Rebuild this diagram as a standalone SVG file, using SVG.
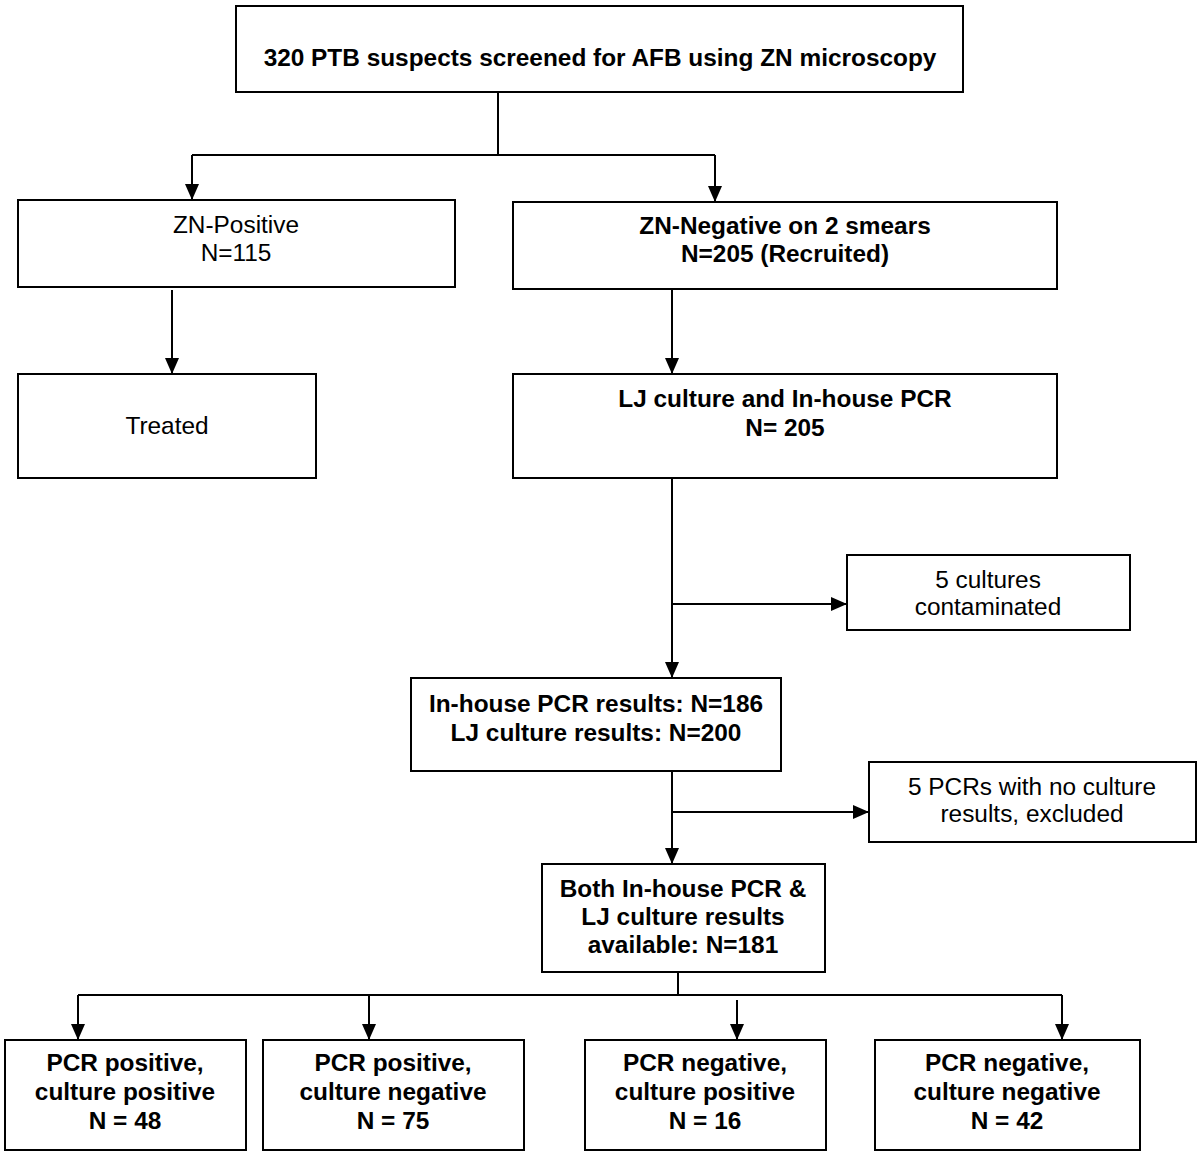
<svg xmlns="http://www.w3.org/2000/svg" width="1200" height="1154" viewBox="0 0 1200 1154">
<style>
.box{fill:#fff;stroke:#000;stroke-width:2}
.t{font-family:"Liberation Sans",Arial,sans-serif;font-size:24.4px;text-anchor:middle;fill:#000}
.b{font-weight:bold}
.c{fill:none;stroke:#000;stroke-width:2}
</style>
<defs>
<marker id="ah" markerUnits="userSpaceOnUse" markerWidth="16" markerHeight="14" refX="16" refY="7" orient="auto" viewBox="0 0 16 14">
<path d="M0,0 L16,7 L0,14 Z" fill="#000"/>
</marker>
</defs>
<rect width="1200" height="1154" fill="#fff"/>
<g id="connectors">
<path class="c" d="M498 92 V155 M192 155 H715"/>
<path class="c" d="M192 155 V200" marker-end="url(#ah)"/>
<path class="c" d="M715 155 V202" marker-end="url(#ah)"/>
<path class="c" d="M172 290 V374" marker-end="url(#ah)"/>
<path class="c" d="M672 290 V374" marker-end="url(#ah)"/>
<path class="c" d="M672 478 V678" marker-end="url(#ah)"/>
<path class="c" d="M672 604 H847" marker-end="url(#ah)"/>
<path class="c" d="M672 771 V864" marker-end="url(#ah)"/>
<path class="c" d="M672 812 H869" marker-end="url(#ah)"/>
<path class="c" d="M678 972 V995 M78 995 H1062"/>
<path class="c" d="M78 995 V1040" marker-end="url(#ah)"/>
<path class="c" d="M369 995 V1040" marker-end="url(#ah)"/>
<path class="c" d="M737 1000 V1040" marker-end="url(#ah)"/>
<path class="c" d="M1062 995 V1040" marker-end="url(#ah)"/>
</g>
<g id="n-top">
<rect class="box" x="236" y="6" width="727" height="86"/>
<text class="t b" x="600" y="66">320 PTB suspects screened for AFB using ZN microscopy</text>
</g>
<g id="n-znpos">
<rect class="box" x="18" y="200" width="437" height="87"/>
<text class="t" x="236" y="233">ZN-Positive</text>
<text class="t" x="236" y="261">N=115</text>
</g>
<g id="n-znneg">
<rect class="box" x="513" y="202" width="544" height="87"/>
<text class="t b" x="785" y="234">ZN-Negative on 2 smears</text>
<text class="t b" x="785" y="262">N=205 (Recruited)</text>
</g>
<g id="n-treated">
<rect class="box" x="18" y="374" width="298" height="104"/>
<text class="t" x="167" y="434">Treated</text>
</g>
<g id="n-lj">
<rect class="box" x="513" y="374" width="544" height="104"/>
<text class="t b" x="785" y="407">LJ culture and In-house PCR</text>
<text class="t b" x="785" y="436">N= 205</text>
</g>
<g id="n-contam">
<rect class="box" x="847" y="555" width="283" height="75"/>
<text class="t" x="988" y="588">5 cultures</text>
<text class="t" x="988" y="615">contaminated</text>
</g>
<g id="n-inhouse">
<rect class="box" x="411" y="678" width="370" height="93"/>
<text class="t b" x="596" y="712">In-house PCR results: N=186</text>
<text class="t b" x="596" y="741">LJ culture results: N=200</text>
</g>
<g id="n-excluded">
<rect class="box" x="869" y="762" width="327" height="80"/>
<text class="t" x="1032" y="795">5 PCRs with no culture</text>
<text class="t" x="1032" y="822">results, excluded</text>
</g>
<g id="n-both">
<rect class="box" x="542" y="864" width="283" height="108"/>
<text class="t b" x="683" y="897">Both In-house PCR &amp;</text>
<text class="t b" x="683" y="925">LJ culture results</text>
<text class="t b" x="683" y="953">available: N=181</text>
</g>
<g id="n-pp">
<rect class="box" x="5" y="1040" width="241" height="110"/>
<text class="t b" x="125" y="1071">PCR positive,</text>
<text class="t b" x="125" y="1100">culture positive</text>
<text class="t b" x="125" y="1129">N = 48</text>
</g>
<g id="n-pn">
<rect class="box" x="263" y="1040" width="261" height="110"/>
<text class="t b" x="393" y="1071">PCR positive,</text>
<text class="t b" x="393" y="1100">culture negative</text>
<text class="t b" x="393" y="1129">N = 75</text>
</g>
<g id="n-np">
<rect class="box" x="585" y="1040" width="241" height="110"/>
<text class="t b" x="705" y="1071">PCR negative,</text>
<text class="t b" x="705" y="1100">culture positive</text>
<text class="t b" x="705" y="1129">N = 16</text>
</g>
<g id="n-nn">
<rect class="box" x="875" y="1040" width="265" height="110"/>
<text class="t b" x="1007" y="1071">PCR negative,</text>
<text class="t b" x="1007" y="1100">culture negative</text>
<text class="t b" x="1007" y="1129">N = 42</text>
</g>
</svg>
